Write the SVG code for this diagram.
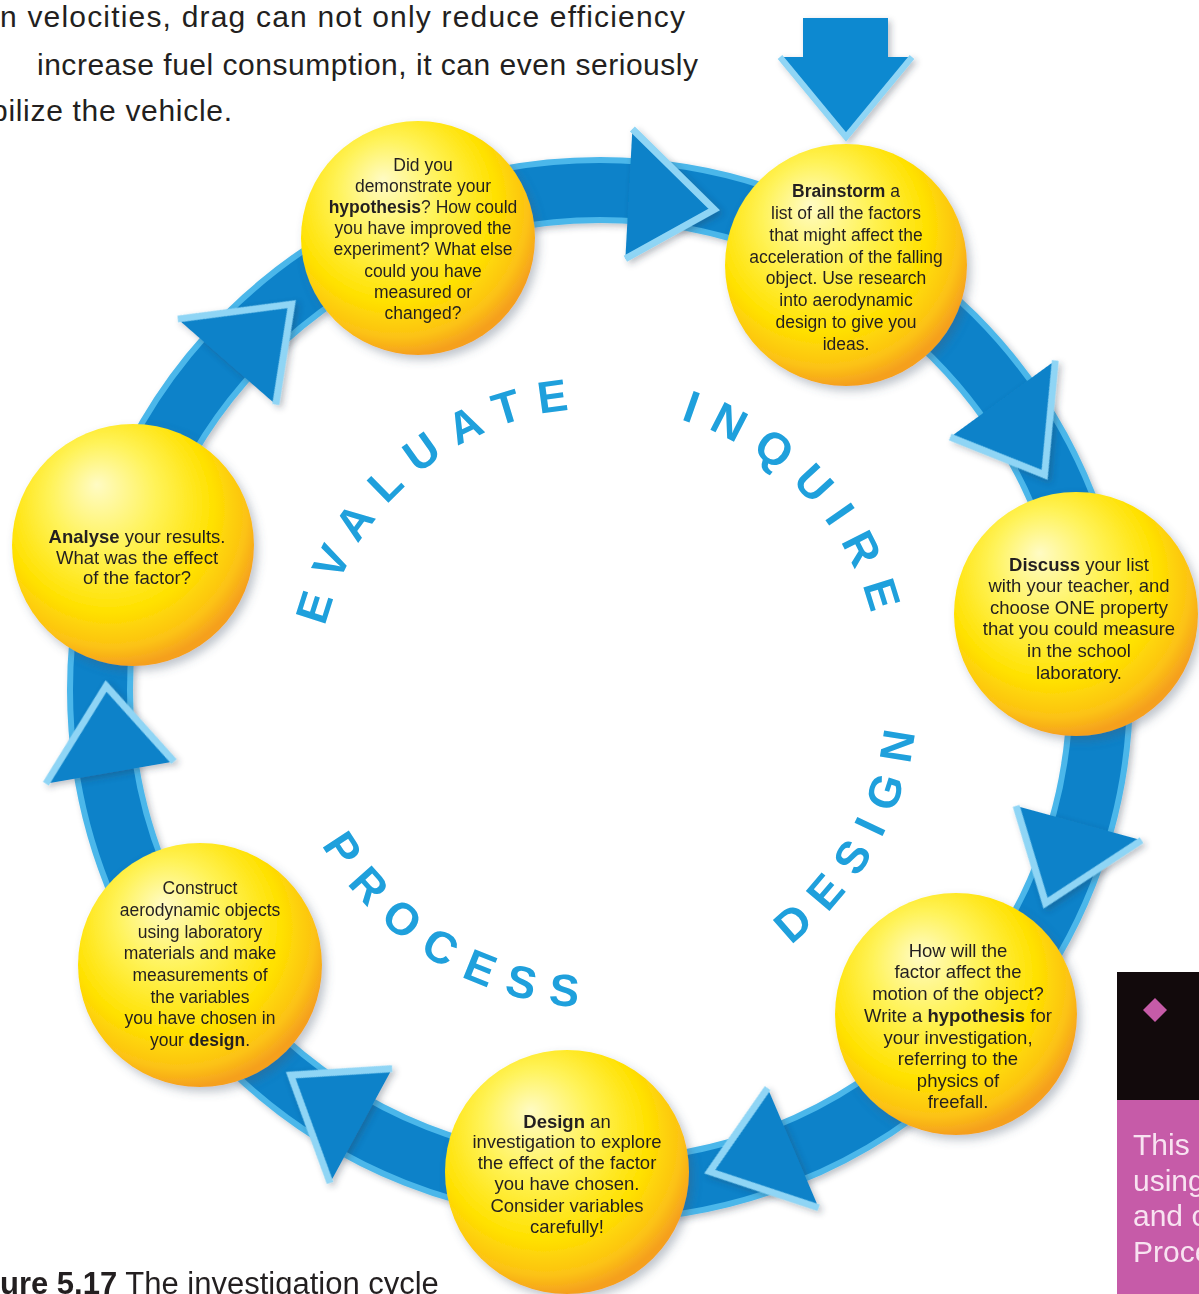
<svg xmlns="http://www.w3.org/2000/svg" width="1199" height="1294" viewBox="0 0 1199 1294">
<style>
.t{font-family:"Liberation Sans",Arial,sans-serif;fill:#231f20;text-anchor:middle}
.s1{font-size:17.5px}
.s2{font-size:18.5px}
.b{font-weight:bold}
.big{font-family:"Liberation Sans",Arial,sans-serif;font-weight:bold;font-size:45px;fill:#1fa0dc;letter-spacing:16px}
.para{font-family:"Liberation Sans",Arial,sans-serif;font-size:30px;fill:#231f20}
.ball{fill:url(#ball);filter:url(#sh)}
.hf{fill:#0d82c9}
.hs{fill:none;stroke:#8fd5f5;stroke-width:7;stroke-linejoin:miter}
</style>
<defs>
<radialGradient id="ball" cx="42%" cy="38%" r="62%" fx="35%" fy="25%">
<stop offset="0" stop-color="#fffbc4"/>
<stop offset="0.35" stop-color="#fff35a"/>
<stop offset="0.7" stop-color="#ffe100"/>
<stop offset="0.9" stop-color="#fcc214"/>
<stop offset="1" stop-color="#f5a01e"/>
</radialGradient>
<filter id="sh" x="-20%" y="-20%" width="150%" height="150%"><feDropShadow dx="4" dy="5" stdDeviation="5" flood-color="#4a5a70" flood-opacity="0.35"/></filter>
<filter id="sh2" x="-20%" y="-20%" width="150%" height="150%"><feDropShadow dx="3" dy="3" stdDeviation="3" flood-color="#303848" flood-opacity="0.3"/></filter>
<path id="arcEval" d="M355.8,831 A282,282 0 0 1 781.3,474"/>
<path id="arcInq" d="M446.4,453.5 A282,282 0 0 1 825.2,859.7"/>
<path id="arcDes" d="M496.5,990.7 A318,318 0 0 0 800.1,442.9"/>
<path id="arcProc" d="M303.1,576 A318,318 0 0 0 840,898.6"/>
<g id="head">
<path d="M602,128 L688,204 L602,258 Z" class="hf"/>
<path d="M602,128 L688,204 L602,258" class="hs"/>
</g>
</defs>
<rect width="1199" height="1294" fill="#ffffff"/>

<g id="intro-text">
<text class="para" x="0" y="27" textLength="685">n velocities, drag can not only reduce efficiency</text>
<text class="para" x="37" y="75" textLength="661">increase fuel consumption, it can even seriously</text>
<text class="para" x="-9" y="121" textLength="241">bilize the vehicle.</text>
</g>

<g id="connectors">
<circle cx="600" cy="690" r="500" fill="none" stroke="#4cb7ea" stroke-width="66" filter="url(#sh2)"/>
<circle cx="600" cy="690" r="500" fill="none" stroke="#0d82c9" stroke-width="54"/>
<g filter="url(#sh2)">
<use href="#head" transform="rotate(3.1 600 690)"/>
<use href="#head" transform="rotate(53.9 600 690)"/>
<use href="#head" transform="rotate(105.3 600 690)"/>
<use href="#head" transform="rotate(156.9 600 690)"/>
<use href="#head" transform="rotate(208.5 600 690)"/>
<use href="#head" transform="rotate(260.2 600 690)"/>
<use href="#head" transform="rotate(311.1 600 690)"/>
</g>
<g id="entry-arrow" filter="url(#sh2)">
<rect x="803" y="18" width="85" height="42" fill="#1189d0"/>
<path d="M780,57 L912,57 L846,137 Z" fill="#1189d0"/>
<path d="M780,57 L846,137 L912,57" fill="none" stroke="#8fd5f5" stroke-width="6"/>
</g>
</g>

<g id="phase-labels">
<text class="big"><textPath href="#arcEval" startOffset="50%" text-anchor="middle">EVALUATE</textPath></text>
<text class="big"><textPath href="#arcInq" startOffset="50%" text-anchor="middle">INQUIRE</textPath></text>
<text class="big"><textPath href="#arcDes" startOffset="50%" text-anchor="middle">DESIGN</textPath></text>
<text class="big"><textPath href="#arcProc" startOffset="50%" text-anchor="middle">PROCESS</textPath></text>
</g>

<g id="node-evaluate">
<circle class="ball" cx="418" cy="238" r="117"/>
<text class="t s1" x="423" y="171">Did you</text>
<text class="t s1" x="423" y="192">demonstrate your</text>
<text class="t s1" x="423" y="213"><tspan class="b">hypothesis</tspan>? How could</text>
<text class="t s1" x="423" y="234">you have improved the</text>
<text class="t s1" x="423" y="255">experiment? What else</text>
<text class="t s1" x="423" y="277">could you have</text>
<text class="t s1" x="423" y="298">measured or</text>
<text class="t s1" x="423" y="319">changed?</text>
</g>

<g id="node-brainstorm">
<circle class="ball" cx="846" cy="265" r="121"/>
<text class="t s1" x="846" y="197"><tspan class="b">Brainstorm</tspan> a</text>
<text class="t s1" x="846" y="219">list of all the factors</text>
<text class="t s1" x="846" y="241">that might affect the</text>
<text class="t s1" x="846" y="263">acceleration of the falling</text>
<text class="t s1" x="846" y="284">object. Use research</text>
<text class="t s1" x="846" y="306">into aerodynamic</text>
<text class="t s1" x="846" y="328">design to give you</text>
<text class="t s1" x="846" y="350">ideas.</text>
</g>

<g id="node-discuss">
<circle class="ball" cx="1076" cy="614" r="122"/>
<text class="t s2" x="1079" y="571"><tspan class="b">Discuss</tspan> your list</text>
<text class="t s2" x="1079" y="592">with your teacher, and</text>
<text class="t s2" x="1079" y="614">choose ONE property</text>
<text class="t s2" x="1079" y="635">that you could measure</text>
<text class="t s2" x="1079" y="657">in the school</text>
<text class="t s2" x="1079" y="679">laboratory.</text>
</g>

<g id="node-hypothesis">
<circle class="ball" cx="956" cy="1014" r="121"/>
<text class="t s2" x="958" y="957">How will the</text>
<text class="t s2" x="958" y="978">factor affect the</text>
<text class="t s2" x="958" y="1000">motion of the object?</text>
<text class="t s2" x="958" y="1022">Write a <tspan class="b">hypothesis</tspan> for</text>
<text class="t s2" x="958" y="1044">your investigation,</text>
<text class="t s2" x="958" y="1065">referring to the</text>
<text class="t s2" x="958" y="1087">physics of</text>
<text class="t s2" x="958" y="1108">freefall.</text>
</g>

<g id="node-design">
<circle class="ball" cx="567" cy="1172" r="122"/>
<text class="t s2" x="567" y="1128"><tspan class="b">Design</tspan> an</text>
<text class="t s2" x="567" y="1148">investigation to explore</text>
<text class="t s2" x="567" y="1169">the effect of the factor</text>
<text class="t s2" x="567" y="1190">you have chosen.</text>
<text class="t s2" x="567" y="1212">Consider variables</text>
<text class="t s2" x="567" y="1233">carefully!</text>
</g>

<g id="node-construct">
<circle class="ball" cx="200" cy="965" r="122"/>
<text class="t s1" x="200" y="894">Construct</text>
<text class="t s1" x="200" y="916">aerodynamic objects</text>
<text class="t s1" x="200" y="938">using laboratory</text>
<text class="t s1" x="200" y="959">materials and make</text>
<text class="t s1" x="200" y="981">measurements of</text>
<text class="t s1" x="200" y="1003">the variables</text>
<text class="t s1" x="200" y="1024">you have chosen in</text>
<text class="t s1" x="200" y="1046">your <tspan class="b">design</tspan>.</text>
</g>

<g id="node-analyse">
<circle class="ball" cx="133" cy="545" r="121"/>
<text class="t s2" x="137" y="543"><tspan class="b">Analyse</tspan> your results.</text>
<text class="t s2" x="137" y="564">What was the effect</text>
<text class="t s2" x="137" y="584">of the factor?</text>
</g>

<g id="side-box">
<rect x="1117" y="972" width="82" height="128" fill="#120a0c"/>
<rect x="1117" y="1100" width="82" height="194" fill="#c65ba8"/>
<path d="M1155,998 L1167,1010 L1155,1022 L1143,1010 Z" fill="#c65ba8"/>
<g font-family="Liberation Sans, Arial, sans-serif" font-size="30" fill="#f8e3f1">
<text x="1133" y="1155">This</text>
<text x="1133" y="1191">using</text>
<text x="1133" y="1226">and c</text>
<text x="1133" y="1262">Process</text>
</g>
</g>

<g id="caption">
<text font-family="Liberation Sans, Arial, sans-serif" font-size="31" fill="#231f20" x="0" y="1294"><tspan font-weight="bold">ure 5.17</tspan> The investigation cycle</text>
</g>
</svg>
